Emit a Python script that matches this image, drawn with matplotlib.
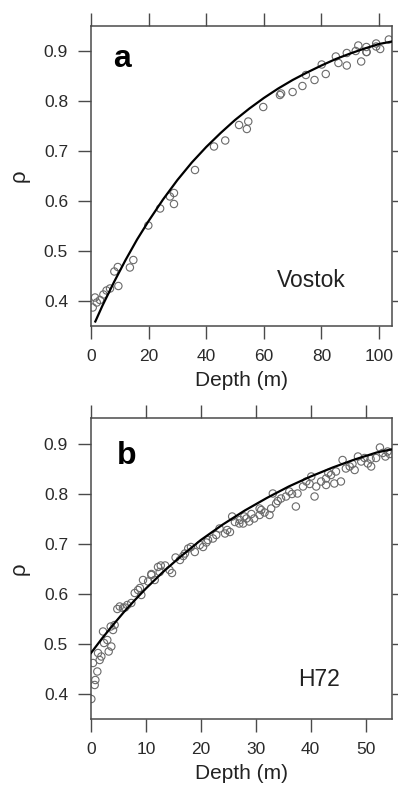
import numpy as np
import matplotlib
matplotlib.use('Agg')
import matplotlib.pyplot as plt

plt.rcParams['font.family'] = ['Liberation Sans', 'DejaVu Sans']

# Vostok (panel a): measured density vs depth
depth_a = [0.6, 1.4, 2.0, 3.1, 4.3, 5.4, 6.6, 8.1, 9.3, 9.5, 13.5, 14.7, 19.9,
           24.0, 27.4, 28.8, 28.8, 36.1, 42.7, 46.6, 51.4, 54.1, 54.6, 59.8,
           65.6, 66.0, 70.0, 73.4, 74.6, 77.6, 80.1, 81.5, 85.0, 85.9, 88.8,
           88.8, 91.9, 92.8, 93.8, 95.6, 95.7, 95.6, 99.0, 99.0, 100.4, 103.4]
rho_a = [0.387, 0.407, 0.397, 0.402, 0.413, 0.421, 0.425, 0.459, 0.468, 0.430,
         0.467, 0.482, 0.551, 0.585, 0.609, 0.616, 0.594, 0.662, 0.709, 0.721,
         0.752, 0.744, 0.759, 0.788, 0.812, 0.815, 0.818, 0.830, 0.852, 0.842,
         0.873, 0.854, 0.889, 0.876, 0.896, 0.871, 0.900, 0.911, 0.879, 0.908,
         0.898, 0.898, 0.915, 0.909, 0.904, 0.923]

# Vostok fitted curve
fit_depth_a = [1.5, 4, 8, 12, 16, 20, 25, 30, 35, 40, 45, 50, 55, 60, 65, 70,
               75, 80, 85, 90, 95, 100, 104.5]
fit_rho_a = [0.359, 0.391, 0.438, 0.482, 0.523, 0.560, 0.603, 0.642, 0.677,
             0.708, 0.736, 0.762, 0.785, 0.806, 0.825, 0.842, 0.857, 0.871,
             0.884, 0.895, 0.905, 0.914, 0.919]

# H72 (panel b): measured density vs depth
depth_b = [0.06, 0.67, 0.79, 1.15, 0.36, 1.58, 1.88, 1.28, 3.22, 3.70, 2.37,
           2.97, 2.19, 4.01, 4.30, 3.59, 4.79, 5.23, 5.83, 6.61, 7.34, 7.96,
           8.56, 9.16, 9.47, 10.4, 10.98, 11.6, 12.2, 12.7, 12.5, 13.5, 14.75,
           14.3, 15.4, 16.2, 17.1, 17.7, 18.2, 18.9, 19.8, 20.4, 21.3, 22.2,
           22.8, 23.4, 24.4, 24.8, 25.3, 25.7, 27.1, 27.7, 28.3,
           27.0, 27.9, 28.8, 29.7, 30.7, 31.6, 32.5, 30.7, 32.8, 33.7, 33.1,
           34.6, 35.5, 36.1, 37.3, 37.6, 38.6, 39.2, 40.1, 40.7, 41.0, 41.9,
           42.8, 42.8, 43.7, 44.3, 44.6, 45.5, 45.8, 46.4, 47.1, 48.0, 48.6,
           49.2, 49.8, 50.4, 51.0, 51.9, 52.6, 53.1, 54.0, 53.6, 54.4,
           6.2, 8.9, 11.0, 16.8, 21.0, 26.2, 29.2, 31.0, 34.0, 36.6, 39.8,
           43.2, 47.6, 50.9]
rho_b = [0.390, 0.418, 0.428, 0.445, 0.462, 0.468, 0.475, 0.482, 0.485, 0.495,
         0.502, 0.508, 0.525, 0.528, 0.538, 0.535, 0.570, 0.575, 0.572, 0.578,
         0.582, 0.602, 0.608, 0.598, 0.628, 0.625, 0.638, 0.628, 0.654, 0.657,
         0.644, 0.657, 0.642, 0.648, 0.673, 0.668, 0.681, 0.691, 0.694, 0.684,
         0.698, 0.694, 0.708, 0.711, 0.718, 0.731, 0.721, 0.728, 0.724, 0.755,
         0.748, 0.741, 0.751,
         0.741, 0.755, 0.745, 0.751, 0.758, 0.763, 0.758, 0.771, 0.771, 0.781,
         0.801, 0.791, 0.795, 0.805, 0.775, 0.801, 0.815, 0.825, 0.835, 0.795,
         0.815, 0.825, 0.818, 0.831, 0.838, 0.821, 0.845, 0.825, 0.868, 0.851,
         0.855, 0.848, 0.875, 0.865, 0.872, 0.861, 0.855, 0.872, 0.893, 0.882,
         0.885, 0.875, 0.880,
         0.573, 0.612, 0.640, 0.676, 0.703, 0.744, 0.760, 0.768, 0.786, 0.800,
         0.820, 0.842, 0.860, 0.870]

# H72 fitted curve
fit_depth_b = [0, 2, 4, 6, 8, 10, 13, 16, 20, 24, 28, 32, 36, 40, 44, 48, 52,
               54.6]
fit_rho_b = [0.482, 0.511, 0.538, 0.564, 0.588, 0.611, 0.643, 0.672, 0.708,
             0.739, 0.767, 0.792, 0.815, 0.835, 0.853, 0.869, 0.883, 0.889]

x_ticks_a = [0, 20, 40, 60, 80, 100]
x_ticks_b = [0, 10, 20, 30, 40, 50]
y_ticks = [0.4, 0.5, 0.6, 0.7, 0.8, 0.9]

fig = plt.figure(figsize=(3.98, 7.85), dpi=100)
ax1 = fig.add_axes([91/398, 1 - 326/785, 301/398, 300/785])
ax2 = fig.add_axes([91/398, 1 - 719/785, 301/398, 301/785])

frame_col = '#4a4a4a'
panels = [
    (ax1, depth_a, rho_a, fit_depth_a, fit_rho_a, x_ticks_a, (0, 104.5),
     (0.35, 0.95), 'a', (0.073, 0.864), 'Vostok', (0.617, 0.129)),
    (ax2, depth_b, rho_b, fit_depth_b, fit_rho_b, x_ticks_b, (0, 54.8),
     (0.35, 0.952), 'b', (0.086, 0.847), 'H72', (0.689, 0.111)),
]

for (ax, xd, yd, xf, yf, xt, xl, yl, tag, tag_pos, site, site_pos) in panels:
    ax.scatter(xd, yd, s=28, facecolors='none', edgecolors='#6a6a6a',
               linewidths=0.8, zorder=2)
    ax.plot(xf, yf, color='black', lw=1.6, zorder=3)
    ax.set_xlim(*xl)
    ax.set_ylim(*yl)
    ax.set_xticks(xt)
    ax.set_yticks(y_ticks)
    ax.set_yticklabels([f'{v:.1f}' for v in y_ticks])
    ax.tick_params(direction='out', length=9.5, width=1.0, color=frame_col,
                   labelsize=12.5, labelcolor='#2a2a2a', pad=7,
                   top=True, right=True)
    for sp in ax.spines.values():
        sp.set_color(frame_col)
        sp.set_linewidth(1.1)
    ax.set_xlabel('Depth (m)', fontsize=15, color='#222222', labelpad=5)
    ax.set_ylabel('ρ', fontsize=16, color='#222222')
    ax.yaxis.set_label_coords(-0.205, 0.5)
    ax.text(tag_pos[0], tag_pos[1], tag, transform=ax.transAxes,
            fontsize=23, fontweight='bold', ha='left', va='baseline')
    ax.text(site_pos[0], site_pos[1], site, transform=ax.transAxes,
            fontsize=16.5, color='#222222', ha='left', va='baseline')

fig.savefig('out.png', dpi=100)
